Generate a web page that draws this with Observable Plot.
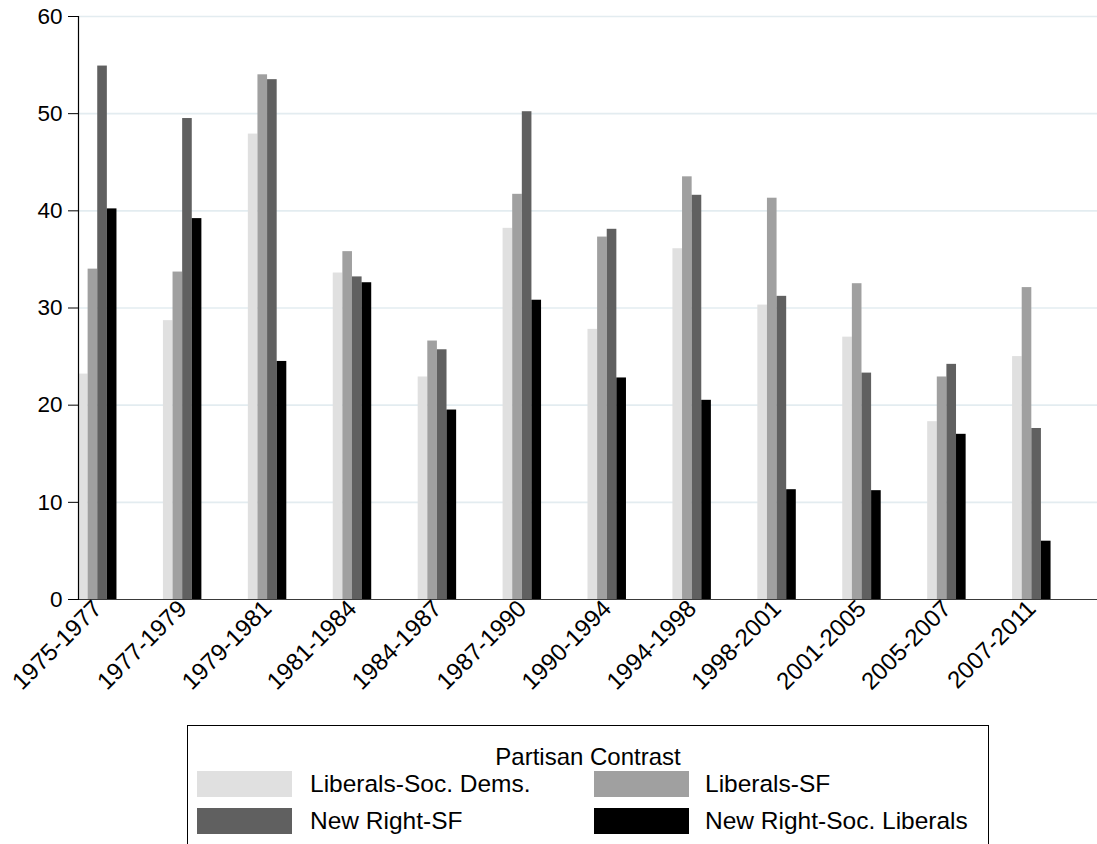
<!DOCTYPE html>
<html>
<head>
<meta charset="utf-8">
<script src="https://cdn.jsdelivr.net/npm/d3@7"></script>
<script src="https://cdn.jsdelivr.net/npm/@observablehq/plot@0.6"></script>
<style>
  html, body { margin: 0; padding: 0; background: #fff; }
  #wrap { position: relative; width: 1097px; height: 844px; overflow: hidden; font-family: "Liberation Sans", Arial, sans-serif; color: #000; }
  #legend { position: absolute; left: 187px; top: 725px; width: 802px; height: 140px; border: 1.5px solid #000; box-sizing: border-box; }
  #legend .title { position: absolute; left: 0; right: 0; top: 17px; text-align: center; font-size: 24px; line-height: 28px; }
  #legend .sw { position: absolute; width: 95px; height: 26px; }
  #legend .lab { position: absolute; font-size: 24.5px; line-height: 28px; white-space: nowrap; }
</style>
</head>
<body>
<div id="wrap"><div id="chart"></div><div id="legend"></div></div>
<script>
const periods = ["1975-1977","1977-1979","1979-1981","1981-1984","1984-1987","1987-1990","1990-1994","1994-1998","1998-2001","2001-2005","2005-2007","2007-2011"];
const seriesNames = ["Liberals-Soc. Dems.","Liberals-SF","New Right-SF","New Right-Soc. Liberals"];
const seriesColors = ["#e0e0e0","#a0a0a0","#606060","#000000"];
const libSocDems    = [23.2, 28.7, 47.9, 33.6, 22.9, 38.2, 27.8, 36.1, 30.3, 27.0, 18.3, 25.0];
const libSF         = [34.0, 33.7, 54.0, 35.8, 26.6, 41.7, 37.3, 43.5, 41.3, 32.5, 22.9, 32.1];
const newRightSF    = [54.9, 49.5, 53.5, 33.2, 25.7, 50.2, 38.1, 41.6, 31.2, 23.3, 24.2, 17.6];
const newRightSocLib= [40.2, 39.2, 24.5, 32.6, 19.5, 30.8, 22.8, 20.5, 11.3, 11.2, 17.0, 6.0];
const yTicks = [0, 10, 20, 30, 40, 50, 60];
const legendTitle = "Partisan Contrast";

const seriesValues = [libSocDems, libSF, newRightSF, newRightSocLib];
const data = [];
seriesNames.forEach((s, k) => periods.forEach((p, i) => data.push({period: p, series: s, value: seriesValues[k][i]})));

const W = 1097, H = 712;
const xOpts = {type: "band", domain: periods, paddingInner: 0.547, paddingOuter: 0.2735, align: 0, round: false, label: null};
const base = {
  width: W, height: H, marginLeft: 78, marginRight: 0, marginTop: 16, marginBottom: 113,
  style: {fontFamily: "'Liberation Sans', Arial, sans-serif", fontSize: "22px", color: "#000", background: "#fff", overflow: "visible"},
  x: xOpts,
  y: {domain: [0, 60], label: null}
};
const probe = Plot.plot({...base, marks: [Plot.barY(data, {x: "period", y: "value"})]});
const bw = probe.scale("x").bandwidth;
const w = bw / 4;

const bars = seriesNames.map((s, k) => Plot.barY(data.filter(d => d.series === s), {
  x: "period", y: "value", fill: seriesColors[k],
  insetLeft: k * w, insetRight: (3 - k) * w
}));

const chart = Plot.plot({
  ...base,
  marks: [
    Plot.gridY(yTicks.filter(t => t > 0), {stroke: "#e3ecf0", strokeOpacity: 1, strokeWidth: 1.6}),
    ...bars,
    Plot.ruleY([0], {stroke: "#3a3a3a", strokeWidth: 1.2}),
    Plot.axisY(yTicks, {tickSize: 10, tickPadding: 6, label: null, fontSize: 22.5, stroke: "#000"}),
    Plot.axisX({tickSize: 0, tickRotate: -45, tickPadding: 5, label: null, fontSize: 24}),
    Plot.frame({anchor: "left", stroke: "#000", strokeWidth: 1.2})
  ]
});
document.getElementById("chart").appendChild(chart);

const legend = document.getElementById("legend");
const t = document.createElement("div");
t.className = "title"; t.textContent = legendTitle; legend.appendChild(t);
const colSw = [9, 406], colLab = [122, 517], rowTop = [45, 82];
seriesNames.forEach((s, k) => {
  const c = k % 2, r = Math.floor(k / 2);
  const sw = document.createElement("div");
  sw.className = "sw"; sw.style.left = colSw[c] + "px"; sw.style.top = rowTop[r] + "px"; sw.style.background = seriesColors[k];
  const lab = document.createElement("div");
  lab.className = "lab"; lab.style.left = colLab[c] + "px"; lab.style.top = (rowTop[r] - 1) + "px"; lab.textContent = s;
  legend.appendChild(sw); legend.appendChild(lab);
});
</script>
</body>
</html>
